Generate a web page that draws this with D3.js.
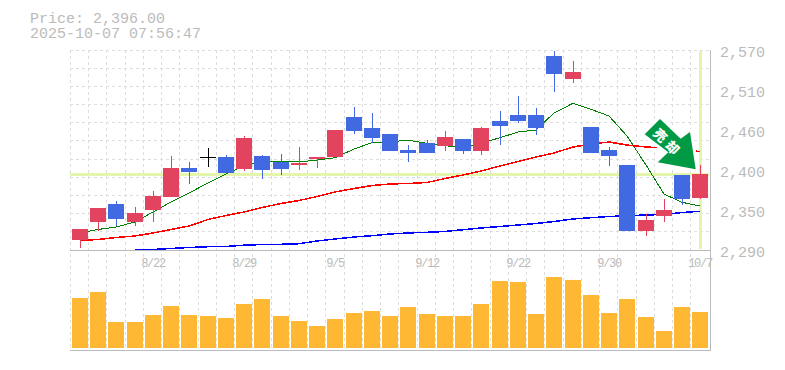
<!DOCTYPE html>
<html>
<head>
<meta charset="utf-8">
<script src="https://cdn.jsdelivr.net/npm/d3@7"></script>
<style>
html, body { margin: 0; padding: 0; background: #fff; overflow: hidden; }
text { font-family: "Liberation Mono", monospace; fill: #bbb; }
</style>
</head>
<body>
<div id="chart"></div>
<script>
const dates = ["8/18","8/19","8/20","8/21","8/22","8/25","8/26","8/27","8/28","8/29","9/1","9/2","9/3","9/4","9/5","9/8","9/9","9/10","9/11","9/12","9/16","9/17","9/18","9/19","9/22","9/24","9/25","9/26","9/29","9/30","10/1","10/2","10/3","10/6","10/7"];
const opens = [2304,2329.2,2354.4,2329.2,2346,2364.2,2404.8,2419.8,2420.2,2403.4,2421.6,2413.2,2409,2417.4,2420.2,2476.2,2460.8,2452.4,2430,2439.8,2435.6,2445.4,2428.6,2470.6,2479,2479,2561.6,2529.4,2462.2,2430,2409,2316.6,2337.6,2395,2362.8];
const highs = [2319.4,2348.8,2358.6,2350.2,2372.6,2421.6,2413.2,2432.8,2423,2449.6,2423,2424.4,2434.2,2420.2,2458,2490.2,2481.8,2452.4,2437,2444,2456.6,2445.4,2462.2,2484.6,2505.6,2488.8,2568.6,2554.6,2462.2,2434.2,2409,2340.4,2361.4,2395,2409];
const lows = [2293.2,2317,2323.6,2323.6,2329.2,2364.2,2382.4,2406.6,2397.8,2400.6,2389.4,2395,2402,2404.8,2420.2,2452.4,2439.8,2428.6,2413.2,2425.8,2428.6,2424.4,2423,2437,2467.8,2451,2511.2,2523.8,2425.8,2407.6,2316.6,2309.6,2329.2,2353,2361.4];
const closes = [2319.4,2348.8,2333.4,2341.8,2365.6,2404.8,2399.2,2419.8,2397.8,2446.8,2402,2403.4,2411.8,2420.2,2458,2456.6,2446.8,2428.6,2425.8,2425.8,2448.2,2428.6,2460.8,2463.6,2470.6,2460.8,2536.4,2539.2,2425.8,2421.6,2316.6,2332,2346,2361.4,2396];
const maShort = [2313.8,2318.7,2322.2,2329.2,2343.2,2357.2,2369.8,2383.8,2396.4,2407.6,2413.9,2413.9,2413.2,2416,2419.2,2431.4,2440.2,2441.6,2443.6,2439.4,2436,2433.8,2439.4,2447.2,2455.2,2458,2481.8,2495.4,2487,2477.6,2449.6,2409,2368.4,2356.8,2351.6];
const maMid = [2303.3,2304.7,2307.5,2309.6,2313.8,2318.7,2323.6,2332.7,2338.3,2343.2,2349.5,2355.1,2359.3,2364.9,2371.2,2376.1,2380.3,2382.4,2383.1,2384.5,2390.1,2395,2400.6,2407.6,2413.9,2420.2,2425.8,2434.2,2438.4,2441.2,2437,2434.2,2432.8,2430,2427.9];
const maLong = [null,null,null,2290,2290.7,2292.1,2293.5,2294.6,2294.9,2296.7,2297.7,2298,2298.8,2302.6,2305.4,2308.2,2310,2312.4,2313.8,2314.8,2315.9,2318.4,2320.8,2322.9,2325,2327.1,2329.9,2333.4,2335.2,2336.9,2338,2339,2339.7,2342.5,2344.2];
const volumes = [50,56,26,26,33,42,33,32,30,44,49,32,27,22,29,35,37,32,41,34,32,32,44,67,66,34,71,68,53,35,49,31,17,41,36];
const priceTicks = [2570,2514,2458,2402,2346,2290];
const lastPrice = 2396;
const lastDate = "10/7";
const titleLines = ["Price: 2,396.00", "2025-10-07 07:56:47"];
const arrowLabel = "売却";

const width = 785;
const height = 370;

const svg = d3.select("#chart")
    .append("svg")
    .attr("width", width)
    .attr("height", height)
    .style("display", "block");

const x = d3.scaleBand().domain(dates).range([70.5, 709]);
const y = d3.scaleLinear().domain([2290, 2570]).range([250, 50]);
const yVol = d3.scaleLinear().domain([0, 100]).range([348, 248]);

// left pixel of a candle, the grid sits just before it
const left = d => Math.round(x(d) + 1.5);
const center = d => left(d) + 8;

// grid
const grid = svg.append("g")
    .attr("stroke", "#ddd")
    .attr("stroke-dasharray", "3,3")
    .attr("shape-rendering", "crispEdges");

dates.forEach(d => {
    grid.append("line")
        .attr("x1", left(d) - 1.5).attr("x2", left(d) - 1.5)
        .attr("y1", 50).attr("y2", 350);
});

d3.range(0, 11).forEach(i => {
    const gy = Math.floor(50 + i * 200 / 11) + 0.5;
    grid.append("line")
        .attr("x1", 70).attr("x2", 710)
        .attr("y1", gy).attr("y2", gy);
});

// current price / date markers
svg.append("line")
    .attr("x1", 70).attr("x2", 709)
    .attr("y1", y(lastPrice)).attr("y2", y(lastPrice))
    .attr("stroke", "#e4f5ac").attr("stroke-width", 3)
    .attr("shape-rendering", "crispEdges");

svg.append("line")
    .attr("x1", center(lastDate) + 0.5).attr("x2", center(lastDate) + 0.5)
    .attr("y1", 51).attr("y2", 249)
    .attr("stroke", "#e4f5ac").attr("stroke-width", 3)
    .attr("shape-rendering", "crispEdges");

// moving averages
const maLine = d3.line()
    .defined(d => d.v !== null)
    .x(d => center(d.date))
    .y(d => y(d.v));

[[maLong, "#0000ff", 1.5], [maMid, "#ff0000", 1.5], [maShort, "#008000", 1]].forEach(ma => {
    svg.append("path")
        .datum(dates.map((date, i) => ({date: date, v: ma[0][i]})))
        .attr("fill", "none")
        .attr("stroke", ma[1])
        .attr("stroke-width", ma[2])
        .attr("shape-rendering", "crispEdges")
        .attr("d", maLine);
});

// candles
const candleColor = i => closes[i] > opens[i] ? "#e2445f" : closes[i] < opens[i] ? "#4169e1" : "#000";

dates.forEach((d, i) => {
    const g = svg.append("g").attr("fill", candleColor(i)).attr("shape-rendering", "crispEdges");
    g.append("rect")
        .attr("x", center(d)).attr("width", 1)
        .attr("y", y(highs[i]))
        .attr("height", y(lows[i]) - y(highs[i]));
    g.append("rect")
        .attr("x", left(d)).attr("width", 16)
        .attr("y", y(Math.max(opens[i], closes[i])))
        .attr("height", Math.max(1, Math.abs(y(opens[i]) - y(closes[i]))));
});

// volume
svg.append("g")
    .attr("fill", "#ffb834")
    .attr("shape-rendering", "crispEdges")
    .selectAll("rect")
    .data(volumes)
    .join("rect")
    .attr("x", (v, i) => left(dates[i]))
    .attr("width", 16)
    .attr("y", v => yVol(v))
    .attr("height", v => yVol(0) - yVol(v));

// panel borders
const border = svg.append("g").attr("stroke", "#bbb").attr("shape-rendering", "crispEdges");
border.append("line").attr("x1", 70).attr("x2", 710).attr("y1", 250.5).attr("y2", 250.5);
border.append("line").attr("x1", 70).attr("x2", 711).attr("y1", 350.5).attr("y2", 350.5);
border.append("line").attr("x1", 710.5).attr("x2", 710.5).attr("y1", 50).attr("y2", 351);

// arrow, drawn on the pixel positions of the picture
const arrowPts = [[644.7,134.3],[660,119],[680.7,138.7],[690,132],[695.7,169.3],[657.7,162.3],[668.3,152.3]];
svg.append("polygon")
    .attr("points", arrowPts.join(" "))
    .attr("fill", "#009944")
    .attr("stroke", "#fff")
    .attr("stroke-width", 6)
    .attr("stroke-linejoin", "round")
    .attr("paint-order", "stroke");

svg.append("text")
    .attr("transform", "translate(668,143) rotate(45)")
    .attr("text-anchor", "middle")
    .attr("dy", 5)
    .style("font-family", "'Noto Sans CJK JP'")
    .style("font-size", "13px")
    .style("font-weight", "900")
    .style("letter-spacing", "4.4px")
    .style("fill", "#fff")
    .text(arrowLabel);

// axis labels
svg.append("g")
    .selectAll("text")
    .data(priceTicks)
    .join("text")
    .attr("x", 720)
    .attr("y", t => y(t) + 7)
    .style("font-size", "15px")
    .text(t => d3.format(",")(Math.round(t / 10) * 10));

svg.append("g")
    .selectAll("text")
    .data(dates.filter((d, i) => i % 5 == 4))
    .join("text")
    .attr("x", d => center(d))
    .attr("y", 267)
    .attr("text-anchor", "middle")
    .style("font-size", "12px")
    .style("letter-spacing", "-1.3px")
    .text(d => d);

// title
titleLines.forEach((t, i) => {
    svg.append("text")
        .attr("x", 30)
        .attr("y", 23 + i * 15)
        .style("font-size", "15px")
        .text(t);
});
</script>
</body>
</html>
